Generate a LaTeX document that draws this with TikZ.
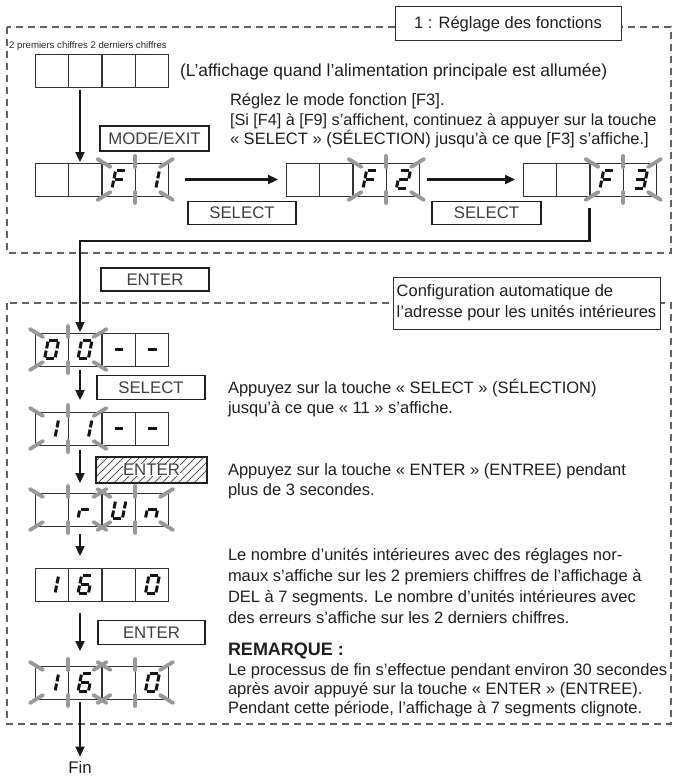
\documentclass[tikz,border=0pt]{standalone}
\usepackage{fontspec}
\setmainfont{Liberation Sans}
\usetikzlibrary{arrows.meta,calc}

\tikzset{
  txt/.style={font=\fontsize{16.5}{20}\selectfont, text=black!88, inner sep=0pt, outer sep=0pt, anchor=base west},
  small/.style={font=\fontsize{9.6}{11}\selectfont, text=black!85, inner sep=0pt, anchor=base west},
  btn/.style={draw=black!88, line width=1.8pt, minimum width=107pt, minimum height=23pt, inner sep=0pt, font=\fontsize{16.8}{16}\selectfont, text=black!75},
  ttl/.style={draw=black!80, line width=1pt, fill=white, inner sep=0pt, font=\fontsize{16.5}{21}\selectfont, text=black!88},
  dashbox/.style={draw=black!62, line width=1.2pt, dash pattern=on 7pt off 5pt},
  arr/.style={draw=black!90, line width=2.3pt, -{Triangle[length=10pt,width=9pt]}},
  ray/.style={draw=black!40, line width=3.8pt, line cap=round},
  seg/.style={draw=black!92, line width=3pt, shorten <=1.1pt, shorten >=1.1pt},
  cellline/.style={draw=black!80, line width=1pt},
  hatch/.style={draw=black!65, line width=0.9pt},
}

% seven segment characters: u1/v1/u2/v2 per segment
\def\sgF{0/0/1/0,0/0/0/0.5,0/0.5/0/1,0/0.5/1/0.5}
\def\sgOne{1/0/1/0.5,1/0.5/1/1}
\def\sgTwo{0/0/1/0,1/0/1/0.5,0/0.5/1/0.5,0/0.5/0/1,0/1/1/1}
\def\sgThree{0/0/1/0,1/0/1/0.5,0/0.5/1/0.5,1/0.5/1/1,0/1/1/1}
\def\sgZero{0/0/1/0,1/0/1/0.5,1/0.5/1/1,0/1/1/1,0/0.5/0/1,0/0/0/0.5}
\def\sgMinus{0/0.5/1/0.5}
\def\sgR{0/0.5/0/1,0/0.5/1/0.5}
\def\sgU{1/0/1/0.5,1/0.5/1/1,0/1/1/1,0/0.5/0/1,0/0/0/0.5}
\def\sgN{0/0.5/1/0.5,0/0.5/0/1,1/0.5/1/1}
\def\sgSix{0/0/1/0,0/0/0/0.5,0/0.5/1/0.5,0/0.5/0/1,0/1/1/1,1/0.5/1/1}

\newcommand\sgdigit[3]{%
  \foreach \ua/\va/\ub/\vb in #3 {%
    \draw[seg] ({#1-5.2+10.4*\ua+3.6*(0.5-\va)},{#2-9+18*\va}) -- ({#1-5.2+10.4*\ub+3.6*(0.5-\vb)},{#2-9+18*\vb});
  }%
}
% display of 4 cells: name, x0, y0
\newcommand\sgdisp[3]{%
  \node[minimum width=133pt, minimum height=33pt, inner sep=0pt, outer sep=0pt] (#1) at ({#2+66.5},{#3+16.5}) {};
  \draw[cellline] (#2,#3) rectangle ({#2+66},{#3+33});
  \draw[cellline] ({#2+67.5},#3) rectangle ({#2+133},{#3+33});
  \draw[cellline] ({#2+33.2},#3) -- ({#2+33.2},{#3+33});
  \draw[cellline] ({#2+100.3},#3) -- ({#2+100.3},{#3+33});
}
% blinking marks around a group: x0,y0,x1,y1
\newcommand\sgblink[4]{%
  \draw[ray] ({#1-5},{#2-4}) -- ({#1+8},{#2+4});
  \draw[ray] ({#3+5},{#2-4}) -- ({#3-8},{#2+4});
  \draw[ray] ({#1-5},{#4+4}) -- ({#1+8},{#4-4});
  \draw[ray] ({#3+5},{#4+4}) -- ({#3-8},{#4-4});
  \draw[ray] ({(#1+#3)/2},{#2-7}) -- ({(#1+#3)/2},{#2+4});
  \draw[ray] ({(#1+#3)/2},{#4-4}) -- ({(#1+#3)/2},{#4+7});
}

\begin{document}
\begin{tikzpicture}[x=1pt,y=-1pt]
\useasboundingbox (0,0) rectangle (682,781);
\fill[white] (0,0) rectangle (682,781);

% dashed frames
\draw[dashbox] (7,27) rectangle (671,253);
\draw[dashbox] (7,303) rectangle (671,724);

% title boxes
\node[ttl, minimum width=226pt, minimum height=34pt] (T1) at (508,24) {1 : Réglage des fonctions};
\node[ttl, minimum width=267pt, minimum height=52pt, align=left] (T2) at (526.5,303)
  {Configuration automatique de\\l'adresse pour les unités intérieures};

% ---------- section 1 ----------
\node[small] (lab) at (9,49) {2 premiers chiffres 2 derniers chiffres};
\sgdisp{D0}{35}{55}
\node[txt, font=\fontsize{17.4}{20}\selectfont] (t0) at (180,77) {(L'affichage quand l'alimentation principale est allumée)};
\node[txt] (t1) at (230,106) {Réglez le mode fonction [F3].};
\node[txt, font=\fontsize{16.2}{20}\selectfont] (t2) at (230,125) {[Si [F4] à [F9] s'affichent, continuez à appuyer sur la touche};
\node[txt] (t3) at (230,144) {« SELECT » (SÉLECTION) jusqu'à ce que [F3] s'affiche.]};

\node[btn, minimum width=109pt, minimum height=25pt] (bME) at (154.5,138.5) {MODE/EXIT};

\sgdisp{F1}{35}{163}
\sgdigit{119}{179.5}{\sgF}
\sgdigit{152.4}{179.5}{\sgOne}
\sgblink{102.5}{163}{168}{196}

\sgdisp{F2}{286}{163}
\sgdigit{370}{179.5}{\sgF}
\sgdigit{403.4}{179.5}{\sgTwo}
\sgblink{353.5}{163}{419}{196}

\sgdisp{F3}{523}{163}
\sgdigit{607}{179.5}{\sgF}
\sgdigit{640.4}{179.5}{\sgThree}
\sgblink{590.5}{163}{656}{196}

\node[btn, minimum width=108pt] (bS1) at (242,213) {SELECT};
\node[btn, minimum width=109pt] (bS2) at (486.5,213) {SELECT};

\node[btn, minimum width=108pt] (bE1) at (155,279.5) {ENTER};

% ---------- section 2 ----------
\sgdisp{D00}{35}{333}
\sgdigit{51.6}{349.5}{\sgZero}
\sgdigit{85}{349.5}{\sgZero}
\sgdigit{119}{349.5}{\sgMinus}
\sgdigit{152.4}{349.5}{\sgMinus}
\sgblink{35}{333}{101.5}{366}

\node[btn, minimum width=108pt, minimum height=24pt] (bS3) at (151,387.5) {SELECT};
\node[txt] (s1) at (228,393) {Appuyez sur la touche « SELECT » (SÉLECTION)};
\node[txt] (s2) at (228,413) {jusqu'à ce que « 11 » s'affiche.};

\sgdisp{D11}{35}{412}
\sgdigit{51.6}{428.5}{\sgOne}
\sgdigit{85}{428.5}{\sgOne}
\sgdigit{119}{428.5}{\sgMinus}
\sgdigit{152.4}{428.5}{\sgMinus}
\sgblink{35}{412}{101.5}{445}

% hatched ENTER
\path node[btn, draw=none, minimum width=109pt, minimum height=24pt] (bE2) at (151.5,470) {};
\begin{scope}
  \clip (bE2.south west) rectangle (bE2.north east);
  \foreach \i in {0,...,15} {
    \draw[hatch] ({75+8*\i},482) -- ({99+8*\i},458);
  }
\end{scope}
\node[fill=white, inner sep=0.5pt, font=\fontsize{16.8}{16}\selectfont, text=black!75] (bE2t) at (bE2.center) {ENTER};
\draw[draw=black!88, line width=1.8pt] (bE2.south west) rectangle (bE2.north east);

\node[txt] (e1) at (228,475) {Appuyez sur la touche « ENTER » (ENTREE) pendant};
\node[txt] (e2) at (228,495) {plus de 3 secondes.};

\sgdisp{DrUn}{35}{493}
\sgdigit{85}{509.5}{\sgR}
\sgdigit{119}{509.5}{\sgU}
\sgdigit{152.4}{509.5}{\sgN}
\sgblink{35}{493}{101.5}{526}
\sgblink{102.5}{493}{168}{526}

\sgdisp{D160}{35}{568}
\sgdigit{51.6}{584.5}{\sgOne}
\sgdigit{85}{584.5}{\sgSix}
\sgdigit{152.4}{584.5}{\sgZero}

\node[txt] (p1) at (228,560) {Le nombre d'unités intérieures avec des réglages nor-};
\node[txt] (p2) at (228,581) {maux s'affiche sur les 2 premiers chiffres de l'affichage à};
\node[txt] (p3) at (228,602) {DEL à 7 segments. Le nombre d'unités intérieures avec};
\node[txt] (p4) at (228,623) {des erreurs s'affiche sur les 2 derniers chiffres.};

\node[btn, minimum width=107pt, minimum height=24pt] (bE3) at (151.5,632.5) {ENTER};

\node[txt, font=\fontsize{18}{20}\selectfont\bfseries] (rem) at (228,655) {REMARQUE :};
\node[txt] (q1) at (228,675) {Le processus de fin s'effectue pendant environ 30 secondes};
\node[txt] (q2) at (228,694) {après avoir appuyé sur la touche « ENTER » (ENTREE).};
\node[txt] (q3) at (228,713) {Pendant cette période, l'affichage à 7 segments clignote.};

\sgdisp{D160b}{35}{666}
\sgdigit{51.6}{682.5}{\sgOne}
\sgdigit{85}{682.5}{\sgSix}
\sgdigit{152.4}{682.5}{\sgZero}
\sgblink{35}{666}{101.5}{699}
\sgblink{102.5}{666}{168}{699}

\node[font=\fontsize{16.8}{16}\selectfont, text=black!88, inner sep=0pt] (fin) at (80,767) {Fin};

% ---------- connectors ----------
\coordinate (col) at (80,0);
\coordinate (turn) at (80,241);
\draw[arr, shorten <=2pt, shorten >=1pt] (D0.south -| col) -- (F1.north -| col);
\draw[arr, shorten <=17pt, shorten >=8pt] (F1.east) -- (F2.west);
\draw[arr, shorten <=8pt, shorten >=8pt] (F2.east) -- (F3.west);
\draw[arr, shorten >=1pt] ([yshift=-12pt]F3.south) |- (turn) -- (D00.north -| turn);
\draw[arr, shorten <=4pt, shorten >=12pt] (D00.south -| col) -- (D11.north -| col);
\draw[arr, shorten <=5pt, shorten >=10pt] (D11.south -| col) -- (DrUn.north -| col);
\draw[arr, shorten <=8pt, shorten >=12pt] (DrUn.south -| col) -- (D160.north -| col);
\draw[arr, shorten <=12pt, shorten >=15pt] (D160.south -| col) -- (D160b.north -| col);
\draw[arr, shorten <=3pt, shorten >=4pt] (D160b.south -| col) -- (fin.north);
\end{tikzpicture}
\end{document}
